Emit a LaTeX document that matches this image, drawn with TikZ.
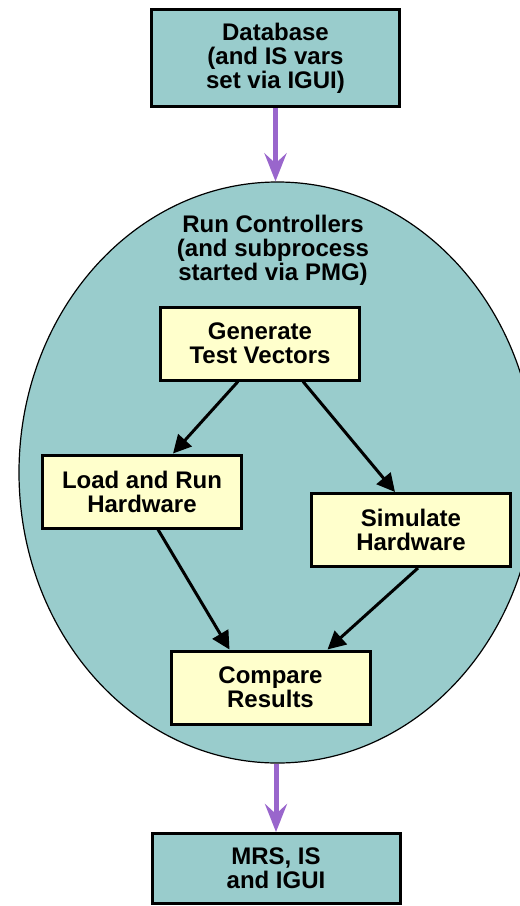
\documentclass[tikz,border=0pt]{standalone}
\usepackage{fontspec}
\setmainfont{Liberation Sans}
\usetikzlibrary{shapes.geometric,arrows.meta}
\definecolor{tealbg}{HTML}{99CCCC}
\definecolor{paleyel}{HTML}{FFFFCC}
\definecolor{lilac}{HTML}{9966CC}
\begin{document}
\begin{tikzpicture}[
    x=1pt, y=-1pt,
    every node/.style={font=\fontsize{24}{24}\selectfont\bfseries, align=center, inner sep=0pt},
    io/.style={draw, line width=3pt, fill=tealbg, minimum width=248pt},
    task/.style={draw, line width=3pt, fill=paleyel, minimum width=199pt, minimum height=73pt},
    flow/.style={draw, line width=3pt, -{Triangle[length=18pt,width=18pt]}},
    feed/.style={draw=lilac, line width=5pt, -{Stealth[length=28pt,width=22pt,inset=10pt]}}
]
\useasboundingbox (0,0) rectangle (520,906);
\node[ellipse, draw, line width=1.2pt, fill=tealbg, minimum width=517pt, minimum height=581pt] (ctrl) at (277.5,472.5) {};
\node (ctrltxt) at (273,250) {Run Controllers\\(and subprocess\\started via PMG)};

\node[io, minimum height=97pt] (db) at (275.5,58) {Database\\(and IS vars\\set via IGUI)};
\node[io, minimum height=70pt] (mrs) at (276,868.5) {MRS, IS\\and IGUI};

\node[task] (gen) at (260,343.5) {Generate\\Test Vectors};
\node[task] (load) at (142,491.5) {Load and Run\\Hardware};
\node[task] (sim) at (411,530) {Simulate\\Hardware};
\node[task] (cmp) at (270.5,687.5) {Compare\\Results};

% feed in and out of the controllers
\draw[feed] (db.south) -- (db.south |- ctrl.north);
\draw[feed] (mrs.north |- ctrl.south) -- (mrs.north);

\draw[flow] ([xshift=-22pt]gen.south) -- ([xshift=31pt]load.north);
\draw[flow] ([xshift=43pt]gen.south) -- ([xshift=-16pt]sim.north);
\draw[flow] ([xshift=16pt]load.south) -- ([xshift=-41pt]cmp.north);
\draw[flow] ([xshift=7pt]sim.south) -- ([xshift=57pt]cmp.north);
\end{tikzpicture}
\end{document}
